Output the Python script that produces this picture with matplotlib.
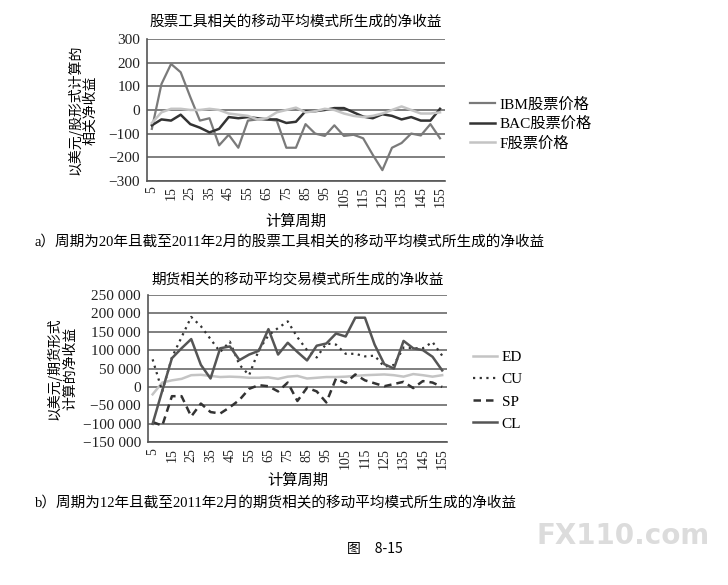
import matplotlib
matplotlib.use("Agg")
import matplotlib.pyplot as plt
from matplotlib.ticker import FuncFormatter

# 计算周期
periodos = list(range(5, 160, 5))

# a) 股票
ibm = [-80, 110, 195, 160, 55, -45, -35, -150, -105, -160, -45, -40, -40, -45, -160, -160,
       -60, -100, -110, -65, -110, -105, -120, -190, -255, -160, -140, -100, -108, -60, -120]
bac = [-65, -40, -45, -20, -60, -75, -95, -80, -30, -35, -30, -35, -40, -40, -55, -50,
       -5, -5, 0, 8, 8, -10, -28, -35, -18, -25, -40, -30, -45, -45, 5]
f_acc = [-55, -10, 5, 5, 0, 0, 5, 0, -15, -20, -25, -40, -35, -10, 0, 10,
         -10, -5, 5, 0, -15, -25, -30, -25, -15, 0, 15, 0, -15, -15, -10]

# b) 期货
ed = [-20000, 12000, 18000, 22000, 32000, 33000, 30000, 27000, 28000, 27000, 25000, 25000,
      26000, 22000, 28000, 30000, 23000, 25000, 27000, 27000, 28000, 30000, 32000, 33000,
      34000, 32000, 28000, 35000, 32000, 28000, 32000]
cu = [75000, -12000, 80000, 135000, 190000, 165000, 130000, 95000, 123000, 60000, 32000, 100000,
      140000, 160000, 178000, 135000, 100000, 80000, 118000, 115000, 90000, 90000, 83000, 85000,
      55000, 60000, 107000, 105000, 105000, 122000, 85000]
sp = [-95000, -105000, -25000, -25000, -80000, -45000, -68000, -72000, -55000, -35000, -5000, 5000,
      2000, -12000, 12000, -38000, -2000, -12000, -42000, 23000, 11000, 34000, 18000, 10000,
      2000, 8000, 14000, -3000, 16000, 12000, 0]
cl = [-100000, -10000, 78000, 105000, 130000, 60000, 23000, 105000, 110000, 73000, 88000, 98000,
      157000, 88000, 120000, 95000, 72000, 112000, 118000, 145000, 137000, 188000, 188000, 115000,
      62000, 50000, 125000, 105000, 100000, 82000, 45000]

SERIF = ['Liberation Serif', 'Noto Sans CJK SC']
CJK = ['Noto Sans CJK SC', 'DejaVu Sans']
plt.rcParams['font.family'] = SERIF


def menos(v, pos, miles=False):
    if miles:
        s = f"{abs(v):,.0f}".replace(",", " ")
    else:
        s = f"{abs(v):.0f}"
    return ("\u2212" + s) if v < 0 else s


def preparar(ax, ymin, ymax, paso, miles, pad_x=4):
    ax.set_ylim(ymin, ymax)
    ax.set_yticks(range(ymin, ymax + 1, paso))
    ax.yaxis.set_major_formatter(FuncFormatter(lambda v, p: menos(v, p, miles)))
    ax.grid(axis='y', color='#6a6a6a', linewidth=1.2)
    ax.set_axisbelow(True)
    for lado in ['top', 'right']:
        ax.spines[lado].set_visible(False)
    for lado in ['left', 'bottom']:
        ax.spines[lado].set_color('#555555')
        ax.spines[lado].set_linewidth(1.2)
    idx = list(range(len(periodos)))
    ax.set_xlim(-0.5, len(periodos) - 0.5)
    ax.set_xticks(idx[::2])
    ax.set_xticklabels([str(p) for p in periodos[::2]], rotation=90)
    ax.tick_params(axis='y', length=0, labelsize=11, colors='#222222', pad=5)
    ax.tick_params(axis='x', length=0, labelsize=10, colors='#222222', pad=4)
    ax.set_xlabel("计算周期", family=CJK, fontsize=11, labelpad=pad_x)
    return idx


fig = plt.figure(figsize=(7.28, 5.85), dpi=100)

# ---- a) ----
ax1 = fig.add_axes([0.202, 0.691, 0.409, 0.242])
x = preparar(ax1, -300, 300, 100, False)
ax1.plot(x, ibm, color='#7a7a7a', linewidth=1.6, label="IBM股票价格")
ax1.plot(x, bac, color='#333333', linewidth=1.8, label="BAC股票价格")
ax1.plot(x, f_acc, color='#c4c4c4', linewidth=1.8, label="F股票价格")
ax1.set_title("股票工具相关的移动平均模式所生成的净收益", family=CJK, fontsize=10.5, pad=10)
ax1.set_ylabel("以美元/股形式计算的\n相关净收益", family=CJK, fontsize=10, labelpad=8, linespacing=1.1)
ax1.legend(loc='center left', bbox_to_anchor=(1.04, 0.40), frameon=False,
           prop={'family': SERIF, 'size': 11}, handlelength=1.6, handletextpad=0.3,
           labelspacing=0.35)

fig.text(0.048, 0.578, "a）周期为20年且截至2011年2月的股票工具相关的移动平均模式所生成的净收益",
         family=SERIF, fontsize=10.5)

# ---- b) ----
ax2 = fig.add_axes([0.203, 0.244, 0.411, 0.252])
x = preparar(ax2, -150000, 250000, 50000, True, pad_x=2)
ax2.plot(x, ed, color='#c4c4c4', linewidth=1.8, label="ED")
ax2.plot(x, cu, color='#333333', linewidth=1.6, linestyle=(0, (1, 2)), label="CU")
ax2.plot(x, sp, color='#333333', linewidth=1.8, linestyle=(0, (3, 2)), label="SP")
ax2.plot(x, cl, color='#555555', linewidth=1.8, label="CL")
ax2.set_title("期货相关的移动平均交易模式所生成的净收益", family=CJK, fontsize=10.5, pad=8)
ax2.set_ylabel("以美元/期货形式\n计算的净收益", family=CJK, fontsize=10, labelpad=4, linespacing=1.1)
ax2.legend(loc='center left', bbox_to_anchor=(1.04, 0.35), frameon=False,
           prop={'family': SERIF, 'size': 11}, handlelength=1.6, handletextpad=0.3,
           labelspacing=0.55)

fig.text(0.048, 0.132, "b）周期为12年且截至2011年2月的期货相关的移动平均模式所生成的净收益",
         family=SERIF, fontsize=10.5)
fig.text(0.515, 0.055, "图　8-15", family=CJK, fontsize=10, ha='center')
fig.text(0.975, 0.07, "FX110.com", family=['DejaVu Sans'], fontsize=20, fontweight='bold',
         color='#dcdcdc', ha='right')

fig.savefig("out.png", dpi=100)
